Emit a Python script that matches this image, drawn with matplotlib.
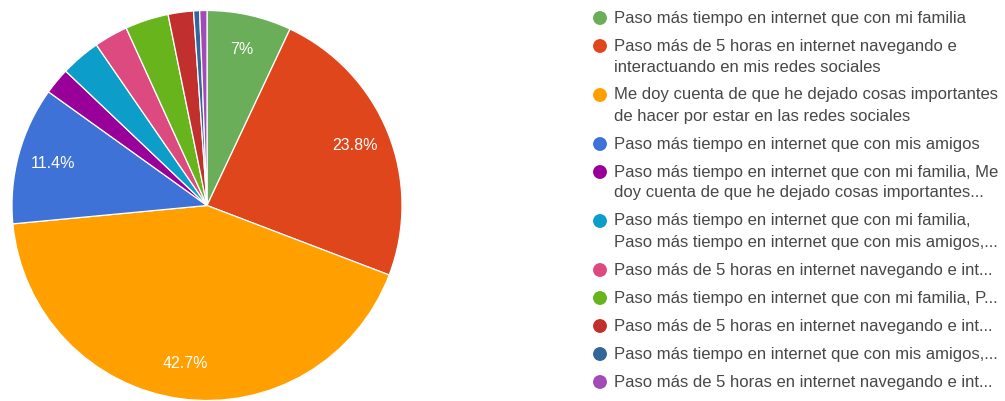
import matplotlib
matplotlib.use("Agg")
import matplotlib.pyplot as plt

# ---- data ----
categories = [
    "Paso más tiempo en internet que con mi familia",
    "Paso más de 5 horas en internet navegando e\ninteractuando en mis redes sociales",
    "Me doy cuenta de que he dejado cosas importantes\nde hacer por estar en las redes sociales",
    "Paso más tiempo en internet que con mis amigos",
    "Paso más tiempo en internet que con mi familia, Me\ndoy cuenta de que he dejado cosas importantes...",
    "Paso más tiempo en internet que con mi familia,\nPaso más tiempo en internet que con mis amigos,...",
    "Paso más de 5 horas en internet navegando e int...",
    "Paso más tiempo en internet que con mi familia, P...",
    "Paso más de 5 horas en internet navegando e int...",
    "Paso más tiempo en internet que con mis amigos,...",
    "Paso más de 5 horas en internet navegando e int...",
]
values = [7.0, 23.8, 42.7, 11.4, 2.2, 3.3, 2.8, 3.6, 2.1, 0.5, 0.6]
pct_labels = ["7%", "23.8%", "42.7%", "11.4%", "", "", "", "", "", "", ""]
colors = ["#6aae5a", "#e0461c", "#ff9f00", "#3f72d6", "#990099", "#0c9ec8",
          "#dd4a80", "#68b41c", "#c2302e", "#336699", "#a24ab8"]

plt.rcParams['font.family'] = ['Liberation Sans', 'DejaVu Sans']

W, H = 1005, 401
fig = plt.figure(figsize=(W / 100, H / 100), dpi=100)
fig.patch.set_facecolor("white")

# pie axes placed in pixel geometry
cx, cy, r = 207, 205.5, 195
ax = fig.add_axes([(cx - r) / W, (H - cy - r) / H, 2 * r / W, 2 * r / H])
label_iter = iter(pct_labels)
wedges, texts, autotexts = ax.pie(
    values, colors=colors, startangle=90, counterclock=False,
    autopct=lambda p: next(label_iter), pctdistance=0.82,
    wedgeprops=dict(edgecolor="white", linewidth=0.9),
    textprops=dict(color="white", fontsize=11.5),
)
ax.set_xlim(-1, 1)
ax.set_ylim(-1, 1)
ax.set_aspect("equal")
ax.axis("off")

# legend drawn in pixel coordinates
lax = fig.add_axes([0, 0, 1, 1])
lax.set_xlim(0, W)
lax.set_ylim(H, 0)
lax.axis("off")

y = 18
for cat, col in zip(categories, colors):
    lines = cat.split("\n")
    lax.scatter([600], [y], s=100, color=col, edgecolors="none")
    for k, ln in enumerate(lines):
        lax.text(614, y + k * 21, ln, fontsize=12, color="#474747",
                 va="center", ha="left")
    y += 28 + 21 * (len(lines) - 1)

fig.savefig("out.png", dpi=100, facecolor="white")
